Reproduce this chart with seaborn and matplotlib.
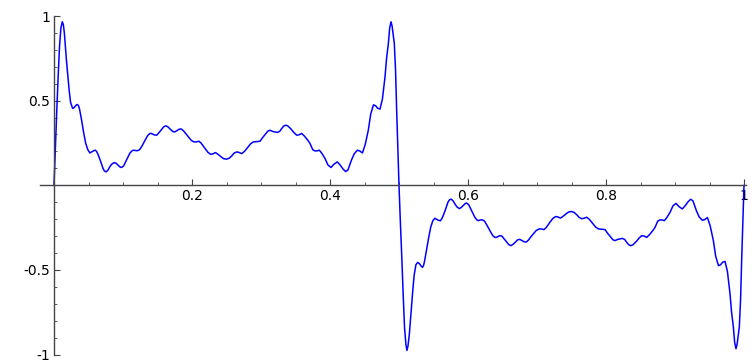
import matplotlib
matplotlib.use("Agg")
import matplotlib.pyplot as plt
from matplotlib.ticker import MultipleLocator, FixedLocator, FixedFormatter
import seaborn as sns
import pandas as pd

# Sampled curve, first half-period (x from 0 to 0.5)
x_first = [0.000, 0.002, 0.004, 0.006, 0.008, 0.010, 0.012, 0.0135, 0.015, 0.018,
           0.020, 0.022, 0.024, 0.027, 0.029, 0.031, 0.0325, 0.034, 0.0355, 0.037,
           0.040, 0.043, 0.046, 0.049, 0.052, 0.056, 0.058, 0.060, 0.062, 0.064,
           0.067, 0.071, 0.073, 0.0754, 0.078, 0.081, 0.084, 0.0874, 0.090, 0.093,
           0.096, 0.098, 0.101, 0.104, 0.107, 0.110, 0.113, 0.115, 0.118, 0.120,
           0.122, 0.124, 0.128, 0.132, 0.136, 0.139, 0.141, 0.144, 0.146, 0.149,
           0.152, 0.156, 0.159, 0.162, 0.165, 0.169, 0.172, 0.175, 0.178, 0.180,
           0.183, 0.185, 0.188, 0.191, 0.195, 0.199, 0.203, 0.206, 0.210, 0.213,
           0.219, 0.223, 0.227, 0.230, 0.234, 0.238, 0.243, 0.246, 0.250, 0.254,
           0.258, 0.261, 0.265, 0.268, 0.272, 0.276, 0.280, 0.285, 0.289, 0.294,
           0.2986, 0.302, 0.306, 0.310, 0.313, 0.317, 0.3236, 0.327, 0.330, 0.333,
           0.336, 0.339, 0.344, 0.348, 0.3517, 0.355, 0.359, 0.363, 0.368, 0.371,
           0.375, 0.378, 0.381, 0.3845, 0.388, 0.3928, 0.397, 0.4014, 0.406, 0.4106,
           0.415, 0.419, 0.4227, 0.426, 0.431, 0.435, 0.4396, 0.443, 0.447, 0.451,
           0.4555, 0.459, 0.463, 0.466, 0.469, 0.4725, 0.476, 0.4797, 0.482, 0.4846,
           0.4865, 0.4884, 0.490, 0.4932, 0.495, 0.4966, 0.4985, 0.500]
y_first = [0.000, 0.22, 0.44, 0.64, 0.82, 0.93, 0.966, 0.95, 0.90, 0.74,
           0.65, 0.56, 0.49, 0.454, 0.458, 0.468, 0.475, 0.477, 0.470, 0.450,
           0.385, 0.310, 0.247, 0.210, 0.191, 0.200, 0.205, 0.207, 0.198, 0.180,
           0.148, 0.100, 0.085, 0.079, 0.088, 0.110, 0.126, 0.134, 0.130, 0.118,
           0.107, 0.105, 0.115, 0.140, 0.165, 0.190, 0.203, 0.207, 0.205, 0.204,
           0.206, 0.210, 0.235, 0.266, 0.295, 0.306, 0.306, 0.300, 0.297, 0.296,
           0.310, 0.330, 0.345, 0.351, 0.345, 0.330, 0.318, 0.315, 0.322, 0.328,
           0.333, 0.331, 0.320, 0.305, 0.286, 0.265, 0.256, 0.256, 0.260, 0.250,
           0.217, 0.195, 0.183, 0.185, 0.193, 0.182, 0.165, 0.157, 0.154, 0.160,
           0.175, 0.190, 0.197, 0.194, 0.187, 0.200, 0.220, 0.245, 0.256, 0.258,
           0.260, 0.280, 0.300, 0.320, 0.325, 0.318, 0.312, 0.318, 0.335, 0.350,
           0.355, 0.350, 0.330, 0.310, 0.296, 0.298, 0.306, 0.290, 0.265, 0.247,
           0.210, 0.203, 0.203, 0.207, 0.190, 0.158, 0.120, 0.105, 0.125, 0.138,
           0.118, 0.095, 0.081, 0.090, 0.148, 0.185, 0.207, 0.203, 0.191, 0.240,
           0.325, 0.420, 0.475, 0.470, 0.455, 0.450, 0.510, 0.640, 0.750, 0.838,
           0.930, 0.966, 0.940, 0.838, 0.680, 0.444, 0.200, 0.000]

# Sampled curve, second half-period (x from 0.5 to 1)
x_second = [0.502, 0.504, 0.506, 0.508, 0.510, 0.5115, 0.513, 0.515, 0.518, 0.520,
            0.522, 0.5245, 0.527, 0.530, 0.5325, 0.534, 0.5355, 0.537, 0.540, 0.543,
            0.546, 0.549, 0.552, 0.556, 0.558, 0.560, 0.562, 0.564, 0.567, 0.571,
            0.573, 0.5754, 0.578, 0.581, 0.584, 0.5874, 0.590, 0.593, 0.596, 0.598,
            0.601, 0.604, 0.607, 0.610, 0.613, 0.615, 0.618, 0.620, 0.622, 0.624,
            0.628, 0.632, 0.636, 0.639, 0.641, 0.644, 0.646, 0.649, 0.652, 0.656,
            0.659, 0.662, 0.665, 0.669, 0.672, 0.675, 0.678, 0.680, 0.683, 0.685,
            0.688, 0.691, 0.695, 0.699, 0.703, 0.706, 0.710, 0.713, 0.719, 0.723,
            0.727, 0.730, 0.734, 0.738, 0.743, 0.746, 0.750, 0.754, 0.758, 0.761,
            0.765, 0.768, 0.772, 0.776, 0.780, 0.785, 0.789, 0.794, 0.7986, 0.802,
            0.806, 0.810, 0.813, 0.817, 0.8236, 0.827, 0.830, 0.833, 0.836, 0.839,
            0.844, 0.848, 0.8517, 0.855, 0.859, 0.863, 0.868, 0.871, 0.875, 0.878,
            0.881, 0.8845, 0.888, 0.8928, 0.897, 0.9014, 0.906, 0.9106, 0.915, 0.919,
            0.9227, 0.926, 0.931, 0.935, 0.9396, 0.943, 0.947, 0.951, 0.9555, 0.959,
            0.963, 0.966, 0.969, 0.9725, 0.976, 0.9797, 0.982, 0.9846, 0.9865, 0.9884,
            0.990, 0.9932, 0.995, 0.9966, 0.9985, 1.000]
y_second = [-0.22, -0.42, -0.64, -0.84, -0.94, -0.976, -0.95, -0.88, -0.72, -0.62,
            -0.53, -0.47, -0.456, -0.465, -0.480, -0.485, -0.475, -0.450, -0.380, -0.310,
            -0.247, -0.210, -0.195, -0.205, -0.208, -0.210, -0.198, -0.180, -0.148, -0.100,
            -0.087, -0.082, -0.090, -0.110, -0.128, -0.138, -0.132, -0.120, -0.108, -0.105,
            -0.115, -0.140, -0.165, -0.190, -0.205, -0.209, -0.205, -0.204, -0.207, -0.212,
            -0.240, -0.270, -0.298, -0.308, -0.308, -0.302, -0.298, -0.300, -0.315, -0.335,
            -0.350, -0.357, -0.350, -0.335, -0.322, -0.320, -0.326, -0.331, -0.336, -0.334,
            -0.322, -0.305, -0.286, -0.267, -0.258, -0.258, -0.262, -0.252, -0.217, -0.196,
            -0.185, -0.187, -0.194, -0.183, -0.166, -0.158, -0.155, -0.161, -0.176, -0.190,
            -0.198, -0.195, -0.189, -0.202, -0.222, -0.247, -0.258, -0.260, -0.262, -0.282,
            -0.302, -0.322, -0.327, -0.320, -0.314, -0.320, -0.337, -0.352, -0.357, -0.352,
            -0.332, -0.312, -0.298, -0.300, -0.308, -0.292, -0.267, -0.249, -0.212, -0.205,
            -0.205, -0.209, -0.192, -0.160, -0.122, -0.107, -0.127, -0.140, -0.120, -0.097,
            -0.083, -0.092, -0.150, -0.187, -0.207, -0.203, -0.191, -0.240, -0.325, -0.420,
            -0.475, -0.470, -0.455, -0.450, -0.510, -0.640, -0.750, -0.838, -0.930, -0.966,
            -0.940, -0.838, -0.680, -0.444, -0.200, 0.000]

x_tick_values = [0.2, 0.4, 0.6, 0.8, 1.0]
x_tick_labels = ["0.2", "0.4", "0.6", "0.8", "1"]
y_tick_values = [-1.0, -0.5, 0.5, 1.0]
y_tick_labels = ["-1", "-0.5", "0.5", "1"]

df = pd.DataFrame({"x": x_first + x_second, "y": y_first + y_second})

sns.set_theme(style="white")
plt.rcParams["font.family"] = ["DejaVu Sans"]
plt.rcParams["axes.unicode_minus"] = False

W, H = 752, 364
fig = plt.figure(figsize=(W / 100, H / 100), dpi=100)

x0, x1 = -0.02, 1.003
px_per_x = 690.0
left_px = 54 - (0 - x0) * px_per_x
width_px = (x1 - x0) * px_per_x
top_px, bottom_px = 16.0, 354.5
ax = fig.add_axes([left_px / W, (H - bottom_px) / H, width_px / W, (bottom_px - top_px) / H])

sns.lineplot(data=df, x="x", y="y", ax=ax, color="#0000ff", linewidth=1.1,
             sort=False, estimator=None)

ax.set_xlim(x0, x1)
ax.set_ylim(-1.0, 1.0)
ax.set_xlabel("")
ax.set_ylabel("")

for side in ("top", "right"):
    ax.spines[side].set_visible(False)
for side in ("left", "bottom"):
    ax.spines[side].set_position(("data", 0))
    ax.spines[side].set_color("#444444")
    ax.spines[side].set_linewidth(1.0)

ax.xaxis.set_major_locator(FixedLocator(x_tick_values))
ax.xaxis.set_major_formatter(FixedFormatter(x_tick_labels))
ax.yaxis.set_major_locator(FixedLocator(y_tick_values))
ax.yaxis.set_major_formatter(FixedFormatter(y_tick_labels))
ax.xaxis.set_minor_locator(MultipleLocator(0.05))
ax.yaxis.set_minor_locator(MultipleLocator(0.1))

ax.tick_params(axis="both", which="major", direction="in", length=4, width=0.8,
               color="#444444", labelsize=10, labelcolor="black", pad=3)
ax.tick_params(axis="both", which="minor", direction="in", length=2, width=0.6,
               color="#444444")
ax.tick_params(axis="x", which="both", bottom=True, top=False)
ax.tick_params(axis="y", which="both", left=True, right=False)

fig.savefig("out.png", dpi=100)
